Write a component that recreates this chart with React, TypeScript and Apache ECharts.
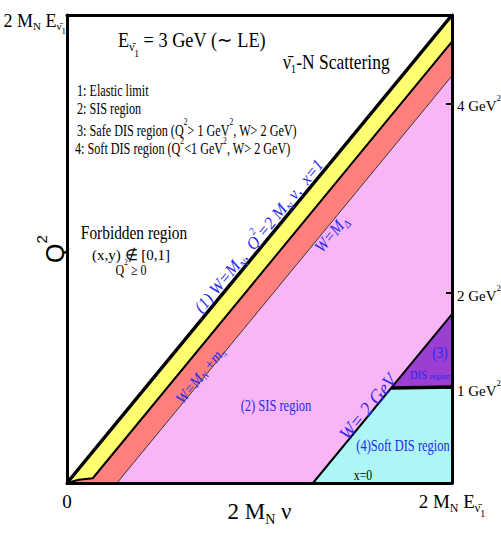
import React, { useEffect, useRef } from 'react';
import * as echarts from 'echarts';

// axis extents (GeV^2): 2 M_N E for E = 3 GeV
const X_MAX = 4.93;
const Q2_MAX = 4.93;
const rightTickValues = [1, 2, 4];
const bottomTickValues = [0, X_MAX];
const leftTickValues = [Q2_MAX];

// boundary lines [2 M_N nu, Q^2]
const elasticLine = [[0, 0], [4.93, 4.93]];
const pionLine = [[0, 0], [0.15, 0.035], [0.33, 0.05], [4.93, 4.65]];
const deltaLine = [[0.64, 0], [4.93, 4.29]];
const w2Line = [[3.15, 0], [4.93, 1.78]];
const q2OneLine = [[4.15, 1], [4.93, 1.01]];

// regions
const yellowRegion = [[0, 0], [4.93, 4.93], [4.93, 4.65], [0.33, 0.05], [0.15, 0.035]];
const redRegion = [[0, 0], [0.15, 0.035], [0.33, 0.05], [4.93, 4.65], [4.93, 4.29], [0.64, 0]];
const sisRegion = [[0.64, 0], [4.93, 4.29], [4.93, 1.78], [4.15, 1], [3.15, 0]];
const safeDisRegion = [[4.15, 1], [4.93, 1.78], [4.93, 1]];
const softDisRegion = [[3.15, 0], [4.15, 1], [4.93, 1], [4.93, 0]];

const SERIF = 'Liberation Serif';
const BLUE = '#2828f0';
const NUBAR = 'ν\u0304';

function mkRich(fs: number, color = '#000', style = 'normal', family = SERIF) {
  const B = Math.round(fs * 0.3);
  const base = { fontFamily: family, fontStyle: style, fill: color, color, verticalAlign: 'top' };
  return {
    n: { ...base, fontSize: fs, padding: [B, 0, 0, 0] },
    sup: { ...base, fontSize: Math.round(fs * 0.6), padding: [0, 0, 0, 0] },
    sub: { ...base, fontSize: Math.round(fs * 0.62), padding: [B + Math.round(fs * 0.5), 0, 0, 0] },
    ss: { ...base, fontSize: Math.round(fs * 0.5), padding: [B + Math.round(fs * 0.85), 0, 0, 0] },
    sm: { ...base, fontSize: Math.round(fs * 0.72), padding: [B + Math.round(fs * 0.2), 0, 0, 0] },
  };
}

type TOpt = { color?: string; italic?: boolean; align?: string; rot?: number; sx?: number; family?: string };
function T(text: string, x: number, y: number, fs: number, o: TOpt = {}) {
  const B = Math.round(fs * 0.3);
  const off = B + fs / 2;
  const color = o.color || '#000';
  return {
    type: 'text',
    x,
    y: y - off,
    originX: 0,
    originY: off,
    rotation: o.rot || 0,
    scaleX: o.sx ?? 0.78,
    z: 100,
    style: {
      text,
      rich: mkRich(fs, color, o.italic ? 'italic' : 'normal', o.family || SERIF),
      fill: color,
      fontSize: fs,
      fontFamily: o.family || SERIF,
      align: o.align || 'left',
      textAlign: o.align || 'left',
      verticalAlign: 'top',
      textVerticalAlign: 'top',
    },
  };
}

const ANG = Math.atan2(468, 385);

export default function App() {
  const ref = useRef<HTMLDivElement>(null);
  useEffect(() => {
    if (!ref.current) return;
    const chart = echarts.init(ref.current, null, { renderer: 'svg' });
    const regions = [
      { pts: yellowRegion, color: '#ffff70' },
      { pts: redRegion, color: '#ff7f7c' },
      { pts: sisRegion, color: '#f8b6f6' },
      { pts: safeDisRegion, color: '#9b3fd2' },
      { pts: softDisRegion, color: '#acf6f6' },
    ];
    const lines = [
      { pts: elasticLine, w: 3.5 },
      { pts: pionLine, w: 2 },
      { pts: deltaLine, w: 1, color: '#333' },
      { pts: w2Line, w: 2 },
      { pts: q2OneLine, w: 3.5 },
    ];
    const axisLineStyle = { show: true, onZero: false, lineStyle: { color: '#000', width: 3 } };
    const emaxLabel = `{n|2 M}{sub|N}{n| E}{sub|${NUBAR}}{ss|1}`;
    chart.setOption({
      animation: false,
      backgroundColor: '#fff',
      grid: { left: 67, top: 15, width: 385, height: 468, containLabel: false, outerBoundsMode: 'none' },
      xAxis: [
        {
          type: 'value', min: 0, max: X_MAX, position: 'bottom', z: 10,
          axisLine: axisLineStyle, axisTick: { show: false }, splitLine: { show: false },
          axisLabel: {
            customValues: bottomTickValues, margin: 3,
            formatter: (v: number) => (v < 0.01 ? '{n|0}' : emaxLabel),
            rich: mkRich(19),
          },
          name: '{n|2 M}{sub|N}{n| ν}', nameLocation: 'middle', nameGap: 10, nameMoveOverlap: false,
          nameTextStyle: { rich: mkRich(23) },
        },
        {
          type: 'value', min: 0, max: X_MAX, position: 'top', z: 10,
          axisLine: axisLineStyle, axisTick: { show: false }, splitLine: { show: false },
          axisLabel: { show: false },
        },
      ],
      yAxis: [
        {
          type: 'value', min: 0, max: Q2_MAX, position: 'left', z: 10,
          axisLine: axisLineStyle, axisTick: { show: false }, splitLine: { show: false },
          axisLabel: {
            customValues: leftTickValues, margin: 1, padding: [12, 0, 0, 0],
            formatter: () => emaxLabel,
            rich: mkRich(18),
          },
          name: '{n|Q}{sup|2}', nameLocation: 'middle', nameGap: 0, nameRotate: 90, nameMoveOverlap: false,
          nameTextStyle: { rich: mkRich(25, '#000', 'normal', 'Liberation Sans') },
        },
        {
          type: 'value', min: 0, max: Q2_MAX, position: 'right', z: 10,
          axisLine: axisLineStyle, splitLine: { show: false },
          axisTick: { show: true, inside: true, length: 6, customValues: rightTickValues, lineStyle: { color: '#000', width: 2 } },
          axisLabel: {
            customValues: rightTickValues, margin: 5,
            formatter: (v: number) => `{n|${v} GeV}{sup|2}`,
            rich: mkRich(15),
          },
        },
      ],
      series: [
        ...regions.map((r) => ({
          type: 'custom',
          coordinateSystem: 'cartesian2d',
          data: r.pts,
          z: 2,
          silent: true,
          renderItem: (params: any, api: any) => {
            if (params.dataIndex !== 0) return null;
            return {
              type: 'polygon',
              shape: { points: r.pts.map((p) => api.coord(p)) },
              style: { fill: r.color, stroke: 'none' },
            };
          },
        })),
        ...lines.map((l) => ({
          type: 'line',
          data: l.pts,
          symbol: 'none',
          z: 4,
          silent: true,
          lineStyle: { color: l.color || '#000', width: l.w },
        })),
      ],
      graphic: [
        T(`{n|E}{sub|${NUBAR}}{ss|1}{n| = 3 GeV (∼ LE)}`, 118, 40, 21, { sx: 0.87 }),
        T(`{n|${NUBAR}}{sub|1}{n|-N Scattering}`, 283, 62, 21, { sx: 0.83 }),
        T('{n|1: Elastic limit}', 77, 90, 16, { sx: 0.76 }),
        T('{n|2: SIS region}', 77, 108, 16, { sx: 0.76 }),
        T('{n|3: Safe DIS region (Q}{sup|2}{n|> 1 GeV}{sup|2}{n|, W> 2 GeV)}', 77, 130, 16, { sx: 0.76 }),
        T('{n|4: Soft DIS region (Q}{sup|2}{n|<1 GeV}{sup|2}{n|, W> 2 GeV)}', 75, 148.5, 16, { sx: 0.76 }),
        T('{n|Forbidden region}', 134, 233, 19, { align: 'center', sx: 0.81 }),
        T('{n|(x,y) ∉ [0,1]}', 131, 255, 15, { align: 'center', sx: 1.0 }),
        T('{n|Q}{sup|2}{n| ≥ 0}', 131, 270, 15, { align: 'center', sx: 0.8 }),
        T('{n|(1) W=M}{sub|N}{n|,  Q}{sup|2}{n|=2 M}{sub|N}{n| ν,  x=1}', 259, 236, 17, { align: 'center', rot: ANG, sx: 0.97, italic: true, color: BLUE }),
        T('{n|W=M}{sub|Δ}', 331, 234, 17, { align: 'center', rot: ANG, sx: 0.9, italic: true, color: BLUE }),
        T('{n|W=M}{sub|N}{n| +m}{sub|π}', 200, 375, 16, { align: 'center', rot: ANG, sx: 0.9, italic: true, color: BLUE }),
        T('{n|W= 2 GeV}', 368, 407, 20, { align: 'center', rot: ANG, sx: 0.92, italic: true, color: BLUE }),
        T('{n|(2) SIS region}', 276, 405, 16, { align: 'center', color: BLUE }),
        T('{n|(3)}', 440, 352, 17, { align: 'center', color: BLUE }),
        T('{n|DIS }{sm|region}', 430, 375, 12, { align: 'center', sx: 0.88, color: BLUE }),
        T('{n|(4)Soft DIS region}', 403, 445, 16, { align: 'center', color: BLUE }),
        T('{n|x=0}', 363, 475, 15, { align: 'center' }),
      ],
    });
    return () => chart.dispose();
  }, []);
  return (
    <div
      ref={ref}
      style={{ position: 'fixed', left: 0, top: 0, width: 501, height: 535, background: '#fff' }}
    />
  );
}
